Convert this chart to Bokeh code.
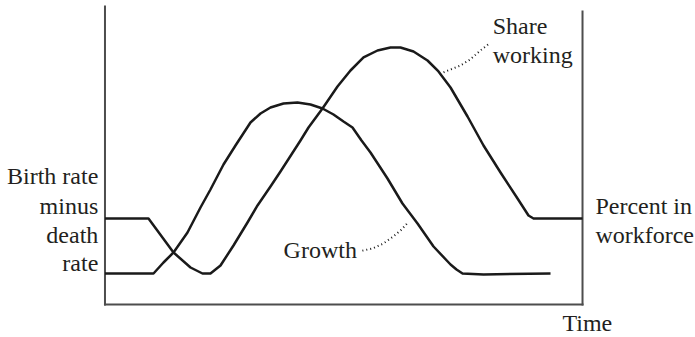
from bokeh.plotting import figure
from bokeh.models import Range1d, Label
from bokeh.embed import file_html
from bokeh.resources import INLINE

# ---- data (time 0-100 across the chart, value 0-100 up the chart) ----
growth_time = [0, 10.16, 12.25, 14.35, 17.28, 20.0, 22.09, 24.82, 27.33, 30.47, 32.57, 34.66,
               37.38, 40.31, 43.04, 45.55, 47.85, 49.95, 51.83, 53.72, 55.60, 59.16, 62.30,
               65.45, 68.80, 72.36, 73.61, 74.87, 79.27, 93.30]
growth_value = [10.47, 10.47, 14.19, 17.57, 24.32, 32.77, 38.85, 47.30, 53.72, 61.49, 64.53, 66.55,
                67.91, 68.24, 67.57, 66.22, 64.19, 61.82, 59.80, 55.41, 51.35, 42.57, 34.12,
                27.36, 19.59, 13.51, 11.82, 10.47, 10.14, 10.47]

share_time = [0, 9.11, 14.35, 17.91, 20.42, 22.09, 24.19, 26.91, 29.84, 31.94, 34.66, 36.75,
              40.94, 42.62, 45.55, 48.69, 51.41, 54.14, 57.07, 59.79, 61.88, 64.61, 67.54,
              69.84, 72.36, 75.92, 79.27, 82.83, 86.39, 88.69, 89.74, 100]
share_value = [29.05, 29.05, 17.57, 12.5, 10.47, 10.47, 13.18, 19.93, 27.70, 33.45, 39.86, 44.93,
               55.41, 59.80, 66.22, 73.65, 79.05, 83.45, 85.81, 86.82, 86.82, 85.47, 82.43,
               78.72, 73.31, 63.51, 53.72, 44.59, 35.81, 30.07, 29.05, 29.05]

share_leader_time = [70.9, 71.9, 74.4, 76.5, 78.6, 80.5]
share_leader_value = [78.4, 79.1, 80.7, 82.8, 85.8, 88.2]
growth_leader_time = [53.9, 56.0, 58.3, 60.4, 62.1, 63.6]
growth_leader_value = [18.2, 18.9, 20.6, 23.0, 25.3, 28.0]

left_label_lines = ["Birth rate", "minus", "death", "rate"]
right_label_lines = ["Percent in", "workforce"]
share_label_lines = ["Share", "working"]
growth_label = "Growth"
time_label = "Time"

# frame of the diagram (in the same time / value units)
time_start, time_end = 0, 100
value_floor = 0
left_axis_top, right_axis_top = 100.7, 99.0

FONT = "Liberation Serif"
FS = "24px"
TXT = "#231f20"
AXC = "#4d4d4d"
INK = "#1a1a1a"

p = figure(width=695, height=337, output_backend="svg", toolbar_location=None,
           x_range=Range1d(-21.88, 123.66), y_range=Range1d(-11.15, 102.70),
           x_axis_type=None, y_axis_type=None,
           min_border=0, min_border_left=0, min_border_right=0,
           min_border_top=0, min_border_bottom=0)
p.outline_line_color = None
p.xgrid.visible = False
p.ygrid.visible = False
p.background_fill_color = "white"
p.border_fill_color = "white"

# the three frame lines
p.segment(x0=[time_start, time_start, time_end], y0=[left_axis_top, value_floor, right_axis_top],
          x1=[time_start, time_end, time_end], y1=[value_floor, value_floor, value_floor],
          line_color=AXC, line_width=2, line_cap="square")

p.line(growth_time, growth_value, line_color=INK, line_width=2.5, line_join="round")
p.line(share_time, share_value, line_color=INK, line_width=2.5, line_join="round")

p.line(share_leader_time, share_leader_value, line_color=INK, line_width=2, line_dash="1 3")
p.line(growth_leader_time, growth_leader_value, line_color=INK, line_width=2, line_dash="1 3")

def lab(x, y, text, align="left"):
    p.add_layout(Label(x=x, y=y, text=text, text_font=FONT, text_font_size=FS,
                       text_color=TXT, text_align=align, text_baseline="alphabetic"))

for line, y in zip(left_label_lines, [43.5, 33.3, 23.5, 14.1]):
    lab(-1.4, y, line, "right")
for line, y in zip(right_label_lines, [33.3, 23.5]):
    lab(102.7, y, line)
for line, y in zip(share_label_lines, [94.2, 84.4]):
    lab(81.2, y, line)
lab(37.4, 18.5, growth_label)
lab(95.8, -6.2, time_label)

open("out.html", "w").write(file_html(p, INLINE))
